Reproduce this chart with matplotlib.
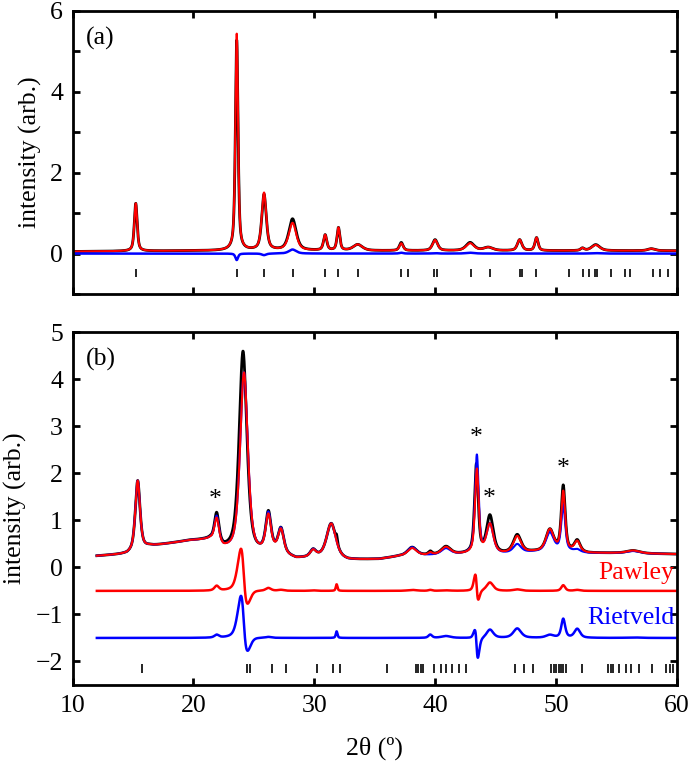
import numpy as np
import matplotlib
matplotlib.use("Agg")
import matplotlib.pyplot as plt

plt.rcParams['font.family'] = ['Liberation Serif', 'DejaVu Serif']
FS = 18.5

# ---------------- panel (a) data: peak table ----------------
top_bg_x = [10, 15, 20, 23, 30, 40, 50, 60]
top_bg_y = [0.05, 0.06, 0.07, 0.07, 0.07, 0.07, 0.07, 0.07]
top_pos = [15.22, 23.58, 25.84, 28.20, 30.90, 32.00, 33.60, 37.20, 40.00, 42.90, 44.40,
           47.00, 48.40, 52.20, 53.30, 57.90]
top_obs_h = [1.18, 5.20, 1.38, 0.78, 0.38, 0.56, 0.15, 0.20, 0.27, 0.20, 0.08,
             0.27, 0.32, 0.06, 0.15, 0.05]
top_calc_h = [1.18, 5.36, 1.42, 0.68, 0.38, 0.56, 0.15, 0.18, 0.26, 0.18, 0.08,
              0.27, 0.32, 0.06, 0.14, 0.05]
top_w = [0.14, 0.13, 0.22, 0.36, 0.16, 0.14, 0.45, 0.18, 0.25, 0.40, 0.45,
         0.22, 0.16, 0.18, 0.40, 0.35]
top_ticks = [15.22, 23.58, 25.84, 28.20, 30.90, 32.00, 33.59, 37.22, 37.79, 39.92, 40.18,
             42.98, 44.54, 47.00, 47.17, 48.37, 51.07, 52.23, 52.76, 53.26, 53.43, 54.53,
             55.72, 56.16, 58.02, 58.59, 59.28]

# ---------------- panel (b) data ----------------
bot_bg_x = [12, 14.5, 15.5, 16.3, 19.7, 21.4, 22.5, 23.3, 25.2, 26.7, 28.5, 30.3, 31.5,
            32.8, 35.4, 37.0, 42.9, 45.6, 48.1, 50.0, 51.2, 52.7, 55.0, 60]
bot_bg_y = [0.24, 0.28, 0.37, 0.44, 0.56, 0.57, 0.36, 0.30, 0.25, 0.30, 0.17, 0.20, 0.20,
            0.15, 0.17, 0.23, 0.28, 0.28, 0.32, 0.33, 0.33, 0.30, 0.30, 0.28]
bot_pos = [15.38, 21.92, 24.10, 26.20, 27.24, 29.90, 31.40, 31.85, 38.10, 39.60, 40.90,
           43.42, 44.54, 46.80, 49.50, 50.61, 51.77, 56.40]
bot_calc_pos = [15.38, 21.92, 24.18, 26.20, 27.24, 29.90, 31.40, 31.85, 38.10, 39.60, 40.90,
                43.46, 44.54, 46.80, 49.50, 50.61, 51.77, 56.40]
bot_obs_h = [1.48, 0.62, 4.30, 0.82, 0.52, 0.15, 0.72, 0.14, 0.18, 0.07, 0.17,
             1.88, 0.80, 0.38, 0.46, 1.38, 0.24, 0.06]
bot_pawley_h = [1.48, 0.52, 3.85, 0.76, 0.50, 0.14, 0.72, 0.00, 0.16, 0.05, 0.16,
                1.78, 0.62, 0.35, 0.46, 1.26, 0.22, 0.06]
bot_rietveld_h = [1.48, 0.56, 3.85, 0.80, 0.52, 0.15, 0.72, 0.00, 0.18, 0.00, 0.13,
                  2.08, 0.62, 0.18, 0.40, 0.98, 0.05, 0.05]
bot_w = [0.23, 0.22, 0.38, 0.26, 0.28, 0.28, 0.45, 0.08, 0.45, 0.18, 0.45,
         0.18, 0.33, 0.38, 0.38, 0.19, 0.28, 0.65]
bot_ticks = [15.72, 24.39, 24.68, 26.47, 27.67, 30.25, 31.57, 32.15, 36.05, 38.42, 38.60,
             38.85, 39.03, 39.87, 40.49, 40.93, 41.44, 41.98, 42.60, 46.61, 47.34, 48.07,
             49.60, 49.82, 50.04, 50.26, 50.44, 50.62, 50.87, 52.15, 54.33, 54.55, 54.77,
             55.21, 55.83, 56.23, 56.89, 57.98, 59.14, 59.43, 59.69]
star_x = [21.78, 43.39, 44.49, 50.61]
star_y = [1.43, 2.75, 1.45, 2.08]
pawley_offset = -0.5
rietveld_offset = -1.5


def pattern(x, bgx, bgy, pos, h, w, eta=0.6):
    y = np.interp(x, bgx, bgy)
    for p, a, s in zip(pos, h, w):
        d = (x - p) / s
        y = y + a * (eta / (1 + d ** 2) + (1 - eta) * np.exp(-np.log(2) * d ** 2))
    return y


fig = plt.figure(figsize=(6.89, 7.63), dpi=100)
ax1 = fig.add_axes([0.1055, 0.6147, 0.8766, 0.3709])
ax2 = fig.add_axes([0.1055, 0.1022, 0.8766, 0.4626])

# panel (a)
xa = np.linspace(10, 60, 5000)
obs_a = pattern(xa, top_bg_x, top_bg_y, top_pos, top_obs_h, top_w)
calc_a = pattern(xa, top_bg_x, top_bg_y, top_pos, top_calc_h, top_w)
ax1.plot(xa, obs_a, color='black', lw=2.0)
ax1.plot(xa, calc_a, color='#ff0000', lw=1.5)
ax1.plot(xa, obs_a - calc_a, color='#0000ff', lw=1.8)
ax1.vlines(top_ticks, -0.58, -0.37, color='black', lw=1.2)
ax1.set_xlim(10, 60)
ax1.set_ylim(-1, 6)
ax1.set_yticks(range(-1, 7))
ax1.set_yticklabels(['' if v % 2 else str(v) for v in range(-1, 7)])
ax1.set_xticks(range(10, 61, 10))
ax1.set_xticklabels([])
ax1.text(11.1, 5.33, '(a)', fontsize=FS, va='center', ha='left')
ax1.set_ylabel('intensity (arb.)', fontsize=FS, labelpad=6)

# panel (b)
xb = np.linspace(12, 60, 5000)
obs_b = pattern(xb, bot_bg_x, bot_bg_y, bot_pos, bot_obs_h, bot_w)
paw_b = pattern(xb, bot_bg_x, bot_bg_y, bot_calc_pos, bot_pawley_h, bot_w)
riet_b = pattern(xb, bot_bg_x, bot_bg_y, bot_calc_pos, bot_rietveld_h, bot_w)
ax2.plot(xb, obs_b, color='black', lw=2.0)
ax2.plot(xb, riet_b, color='#0000ff', lw=1.5)
ax2.plot(xb, paw_b, color='#ff0000', lw=1.5)
ax2.plot(xb, obs_b - paw_b + pawley_offset, color='#ff0000', lw=1.8)
ax2.plot(xb, obs_b - riet_b + rietveld_offset, color='#0000ff', lw=1.8)
ax2.vlines(bot_ticks, -2.24, -2.06, color='black', lw=1.2)
for sx, sy in zip(star_x, star_y):
    ax2.text(sx, sy, '*', fontsize=FS, ha='center', va='center')
ax2.text(59.8, -0.13, 'Pawley', color='#ff0000', fontsize=FS, ha='right', va='center')
ax2.text(59.8, -1.08, 'Rietveld', color='#0000ff', fontsize=FS, ha='right', va='center')
ax2.text(11.1, 4.42, '(b)', fontsize=FS, va='center', ha='left')
ax2.set_xlim(10, 60)
ax2.set_ylim(-2.5, 5)
ax2.set_yticks(range(-2, 6))
ax2.set_xticks(range(10, 61, 10))
ax2.set_ylabel('intensity (arb.)', fontsize=FS, labelpad=6)
ax2.set_xlabel('2\u03b8 (\u00ba)', fontsize=FS, labelpad=14)

for ax in (ax1, ax2):
    for s in ax.spines.values():
        s.set_linewidth(2.0)
    ax.tick_params(direction='in', top=True, right=True, length=5, width=2,
                   labelsize=FS, pad=7)

fig.savefig('out.png', dpi=100)
